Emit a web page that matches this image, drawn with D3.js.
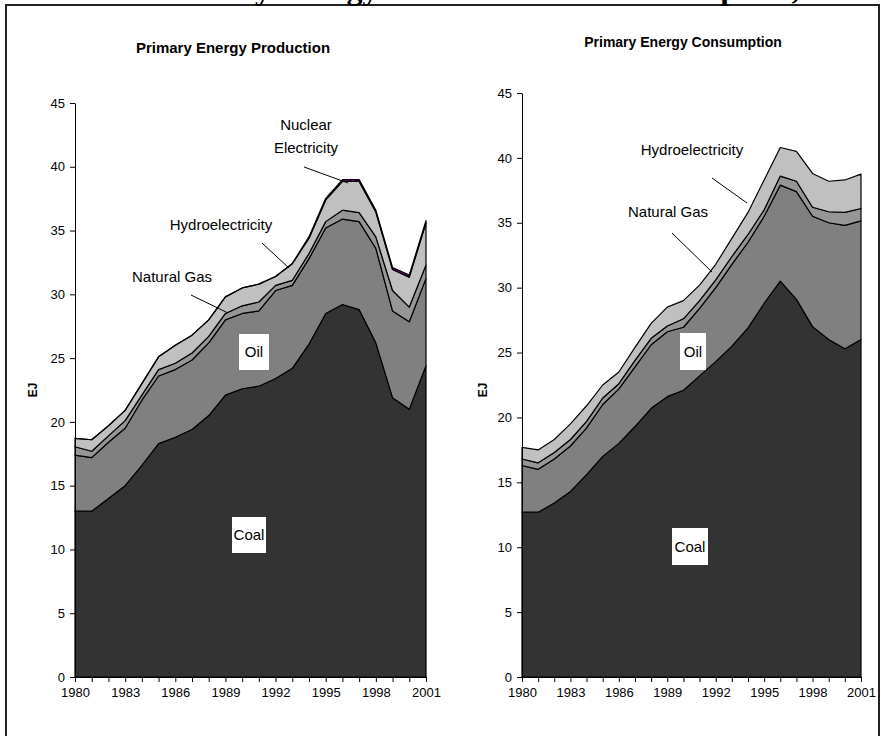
<!DOCTYPE html>
<html>
<head>
<meta charset="utf-8">
<script src="https://cdnjs.cloudflare.com/ajax/libs/d3/7.8.5/d3.min.js"></script>
<style>
  body { margin: 0; background: #fff; }
  text { font-family: "Liberation Sans", Arial, sans-serif; fill: #000; }
</style>
</head>
<body>
<div id="chart"></div>
<script>
// categories
const years = [1980, 1981, 1982, 1983, 1984, 1985, 1986, 1987, 1988, 1989, 1990,
               1991, 1992, 1993, 1994, 1995, 1996, 1997, 1998, 1999, 2000, 2001];
const yearLabels = [1980, 1983, 1986, 1989, 1992, 1995, 1998, 2001];
const yTicks = [0, 5, 10, 15, 20, 25, 30, 35, 40, 45];

// production, EJ (layer thickness)
const prodCoal    = [13.0, 13.0, 14.0, 15.0, 16.6, 18.3, 18.8, 19.4, 20.5, 22.1, 22.6,
                     22.8, 23.4, 24.2, 26.1, 28.5, 29.2, 28.8, 26.2, 21.9, 21.0, 24.4];
const prodOil     = [4.4, 4.2, 4.4, 4.5, 5.1, 5.3, 5.3, 5.45, 5.7, 5.9, 5.9,
                     5.9, 6.9, 6.5, 6.7, 6.7, 6.7, 6.9, 7.4, 6.8, 6.85, 6.85];
const prodGas     = [0.65, 0.5, 0.5, 0.6, 0.4, 0.5, 0.5, 0.55, 0.5, 0.5, 0.6,
                     0.7, 0.4, 0.4, 0.4, 0.5, 0.7, 0.7, 0.9, 1.6, 1.15, 1.05];
const prodHydro   = [0.65, 0.9, 0.8, 0.8, 0.9, 1.0, 1.4, 1.4, 1.3, 1.3, 1.4,
                     1.4, 0.7, 1.3, 1.2, 1.7, 2.25, 2.45, 1.95, 1.65, 2.35, 3.3];
const prodNuclear = [0, 0, 0, 0, 0, 0, 0, 0, 0, 0, 0,
                     0, 0, 0.02, 0.12, 0.13, 0.14, 0.14, 0.14, 0.15, 0.17, 0.18];

// consumption, EJ (layer thickness)
const consCoal  = [12.7, 12.7, 13.4, 14.3, 15.6, 17.0, 18.0, 19.3, 20.7, 21.6, 22.1,
                   23.2, 24.3, 25.5, 26.9, 28.8, 30.5, 29.1, 27.0, 26.0, 25.3, 26.0];
const consOil   = [3.6, 3.3, 3.4, 3.5, 3.6, 4.0, 4.2, 4.6, 4.9, 5.0, 4.85,
                   5.2, 5.7, 6.3, 6.6, 6.7, 7.4, 8.3, 8.5, 9.0, 9.5, 9.15];
const consGas   = [0.5, 0.5, 0.5, 0.5, 0.5, 0.5, 0.4, 0.5, 0.5, 0.45, 0.65,
                   0.6, 0.6, 0.6, 0.6, 0.5, 0.7, 0.8, 0.7, 0.85, 1.0, 0.95];
const consHydro = [0.9, 1.0, 1.0, 1.2, 1.2, 1.0, 0.9, 1.0, 1.15, 1.45, 1.4,
                   1.2, 1.2, 1.4, 1.7, 2.3, 2.2, 2.3, 2.6, 2.35, 2.5, 2.65];

const width = 881, height = 736;
const fills = { coal: "#333333", oil: "#808080", gas: "#969696", hydro: "#c0c0c0", nuclear: "#800080" };

const svg = d3.select("#chart").append("svg")
    .attr("width", width)
    .attr("height", height);

// outer frame
svg.append("rect")
    .attr("x", 6).attr("y", 5)
    .attr("width", 873).attr("height", 760)
    .attr("fill", "none")
    .attr("stroke", "#222")
    .attr("stroke-width", 2);

// main title (mostly cut off above the picture)
const prefix = "China\u2019s ";
const title = svg.append("text")
    .attr("y", -1)
    .style("font-family", "'Liberation Serif', 'Times New Roman', serif")
    .style("font-weight", "bold")
    .style("font-size", "32px")
    .text(prefix + "Primary Energy Production and Consumption, 1980-2001");
title.attr("x", 155.5 - title.node().getSubStringLength(0, prefix.length));

function panel(opt) {
  const rows = years.map((yr, i) => {
    const r = { year: yr };
    opt.keys.forEach(k => r[k] = opt.series[k][i]);
    return r;
  });
  const stack = d3.stack().keys(opt.keys)(rows);

  const x = d3.scaleLinear()
      .domain([years[0], years[years.length - 1]])
      .range([opt.left, opt.right]);
  const y = d3.scaleLinear()
      .domain([0, 45])
      .range([677, opt.top]);

  const g = svg.append("g");

  const area = d3.area()
      .x(d => x(d.data.year))
      .y0(d => y(d[0]))
      .y1(d => y(d[1]));

  g.selectAll(".layer")
    .data(stack)
    .join("path")
      .attr("class", "layer")
      .attr("d", area)
      .attr("fill", d => fills[d.key])
      .attr("stroke", "#000")
      .attr("stroke-width", 1.2)
      .attr("stroke-linejoin", "round");

  g.append("g")
      .attr("transform", `translate(0,677)`)
      .call(d3.axisBottom(x).tickValues(years).tickSize(5).tickSizeOuter(0)
        .tickFormat(d => yearLabels.includes(d) ? d : ""))
      .call(a => a.selectAll("text").attr("dy", "0.95em").style("font-size", "13px")
        .style("font-family", "'Liberation Sans', Arial, sans-serif"));

  g.append("g")
      .attr("transform", `translate(${opt.left},0)`)
      .call(d3.axisLeft(y).tickValues(yTicks).tickSize(5).tickSizeOuter(0).tickPadding(5))
      .call(a => a.selectAll("text").style("font-size", "13px")
        .style("font-family", "'Liberation Sans', Arial, sans-serif"));

  g.selectAll(".domain, .tick line").attr("stroke", "#000");

  g.append("text")
      .attr("x", opt.titleX).attr("y", opt.titleY)
      .attr("text-anchor", "middle")
      .style("font-weight", "bold")
      .style("font-size", opt.titleSize)
      .text(opt.title);

  g.append("text")
      .attr("transform", `translate(${opt.ejX},390) rotate(-90)`)
      .attr("text-anchor", "middle")
      .style("font-weight", "bold")
      .style("font-size", "12px")
      .text("EJ");

  // boxed labels
  opt.boxes.forEach(b => {
    g.append("rect")
        .attr("x", b.x).attr("y", b.y)
        .attr("width", b.w).attr("height", b.h)
        .attr("fill", "#fff");
    g.append("text")
        .attr("x", b.x + b.w / 2).attr("y", b.y + b.h / 2 + 5)
        .attr("text-anchor", "middle")
        .style("font-size", "15px")
        .text(b.text);
  });

  // callout labels
  opt.callouts.forEach(c => {
    c.lines.forEach((t, i) => {
      g.append("text")
          .attr("x", c.x).attr("y", c.y + i * 23)
          .attr("text-anchor", "middle")
          .style("font-size", "15px")
          .text(t);
    });
    g.append("line")
        .attr("x1", c.line[0]).attr("y1", c.line[1])
        .attr("x2", c.line[2]).attr("y2", c.line[3])
        .attr("stroke", "#000")
        .attr("stroke-width", 1);
  });
}

panel({
  keys: ["coal", "oil", "gas", "hydro", "nuclear"],
  series: { coal: prodCoal, oil: prodOil, gas: prodGas, hydro: prodHydro, nuclear: prodNuclear },
  left: 75, right: 426, top: 103,
  title: "Primary Energy Production", titleX: 233, titleY: 53, titleSize: "15px",
  ejX: 37,
  boxes: [
    { text: "Oil", x: 239, y: 334, w: 30, h: 36 },
    { text: "Coal", x: 232, y: 517, w: 34, h: 36 }
  ],
  callouts: [
    { lines: ["Natural Gas"], x: 172, y: 282, line: [191, 295, 228, 313] },
    { lines: ["Hydroelectricity"], x: 221, y: 230, line: [262, 243, 289, 268] },
    { lines: ["Nuclear", "Electricity"], x: 306, y: 130, line: [304, 167, 348, 183] }
  ]
});

panel({
  keys: ["coal", "oil", "gas", "hydro"],
  series: { coal: consCoal, oil: consOil, gas: consGas, hydro: consHydro },
  left: 522, right: 861, top: 93,
  title: "Primary Energy Consumption", titleX: 683, titleY: 47, titleSize: "14px",
  ejX: 487,
  boxes: [
    { text: "Oil", x: 680, y: 333, w: 26, h: 37 },
    { text: "Coal", x: 672, y: 528, w: 36, h: 37 }
  ],
  callouts: [
    { lines: ["Natural Gas"], x: 668, y: 217, line: [672, 233, 712, 272] },
    { lines: ["Hydroelectricity"], x: 692, y: 155, line: [712, 178, 747, 203] }
  ]
});
</script>
</body>
</html>
